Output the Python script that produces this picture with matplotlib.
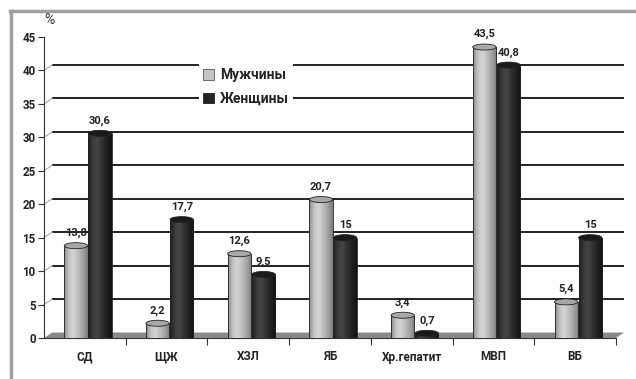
import matplotlib
matplotlib.use('Agg')
import matplotlib.pyplot as plt
import numpy as np
from matplotlib.colors import LinearSegmentedColormap
from matplotlib.patches import Ellipse, Polygon, Patch
from matplotlib.lines import Line2D

plt.rcParams['font.family'] = ['Roboto', 'DejaVu Sans']

categories = ['СД', 'ЩЖ', 'ХЗЛ', 'ЯБ', 'Хр.гепатит', 'МВП', 'ВБ']
men = [13.8, 2.2, 12.6, 20.7, 3.4, 43.5, 5.4]
women = [30.6, 17.7, 9.5, 15, 0.7, 40.8, 15]
yticks = [0, 5, 10, 15, 20, 25, 30, 35, 40, 45]

W, H = 636, 379
fig = plt.figure(figsize=(W / 100, H / 100), dpi=100)
# axes placed in pixel terms: y axis at x=44, zero at y=338, 45 at y=37
ax = fig.add_axes([44 / W, (H - 338) / H, 572 / W, 301 / H])
ax.set_xlim(-0.5, 6.5)
ax.set_ylim(0, 45)

dx = 0.1     # depth shift of the back wall (x, data units)
dy = 0.82    # depth shift of the back wall (y, data units)

# back-wall gridlines and the little diagonal connectors to the ticks
for v in yticks[1:-1]:
    ax.plot([-0.5 + dx, 6.5 + dx], [v + dy, v + dy], color='#111111', lw=1.3,
            zorder=1, clip_on=False, solid_capstyle='butt')
    ax.plot([-0.5, -0.5 + dx], [v, v + dy], color='#aaaaaa', lw=0.8,
            zorder=1, clip_on=False)

# floor
floor = Polygon([(-0.5, 0), (6.5, 0), (6.5 + dx, dy), (-0.5 + dx, dy)],
                closed=True, facecolor='#8a8a8a', edgecolor='none', zorder=1.5,
                clip_on=False)
ax.add_patch(floor)

men_cmap = LinearSegmentedColormap.from_list(
    'men', ['#8c8c8c', '#c4c4c4', '#d4d4d4', '#bdbdbd', '#a2a2a2', '#7c7c7c'])
women_cmap = LinearSegmentedColormap.from_list(
    'women', ['#1e1e1e', '#3c3c3c', '#444444', '#303030', '#202020', '#111111'])
grad = np.linspace(0, 1, 64).reshape(1, -1)

x = np.arange(len(categories))
bw = 0.285
m_off, w_off = -0.11, 0.185


def cylinders(xs, vals, cmap, top_face, zo):
    bars = ax.bar(xs, vals, width=bw, facecolor='none', edgecolor='#222222',
                  linewidth=0.6, zorder=zo + 0.2)
    for b, v in zip(bars, vals):
        x0 = b.get_x()
        im = ax.imshow(grad, cmap=cmap, aspect='auto', zorder=zo,
                       extent=[x0, x0 + bw, 0, v], interpolation='bilinear')
        im.set_clip_path(b)
        ax.add_patch(Ellipse((x0 + bw / 2, v), bw, 0.9, facecolor=top_face,
                             edgecolor='#222222', linewidth=0.6, zorder=zo + 0.3))
    return bars


cylinders(x + m_off, men, men_cmap, '#a8a8a8', 3)
cylinders(x + w_off, women, women_cmap, '#1a1a1a', 4)

for xi, v in zip(x + m_off, men):
    ax.text(xi, v + 1.9, f'{v:g}'.replace('.', ','), ha='center', va='center',
            fontsize=8, fontweight='bold', color='#222222', zorder=6)
for xi, v in zip(x + w_off, women):
    ax.text(xi, v + 1.9, f'{v:g}'.replace('.', ','), ha='center', va='center',
            fontsize=8, fontweight='bold', color='#222222', zorder=6)

ax.set_xlim(-0.5, 6.5)
ax.set_ylim(0, 45)

for s in ['top', 'right']:
    ax.spines[s].set_visible(False)
ax.spines['left'].set_color('#333333')
ax.spines['bottom'].set_color('#333333')
ax.spines['left'].set_linewidth(0.8)
ax.spines['bottom'].set_linewidth(0.8)

ax.set_yticks(yticks)
ax.set_yticklabels([str(t) for t in yticks], fontsize=8.3, fontweight='bold',
                   color='#222222')
ax.tick_params(axis='y', length=4, width=0.8, color='#333333', pad=2)

ax.set_xticks(x)
ax.set_xticklabels(categories, fontsize=8.5, fontweight='bold', color='#222222')
ax.tick_params(axis='x', length=0, pad=9)
ax.set_xticks(np.arange(0.5, 7, 1), minor=True)
ax.tick_params(axis='x', which='minor', length=5, width=0.8, color='#333333')

ax.text(-0.5, 47.6, '%', fontsize=10, color='#333333', ha='left', va='center')

handles = [Patch(facecolor='#c4c4c4', edgecolor='#555555', linewidth=0.6),
           Patch(facecolor='#222222', edgecolor='#222222', linewidth=0.6)]
leg = fig.legend(handles, ['Мужчины', 'Женщины'], loc='upper left',
                 bbox_to_anchor=(192 / W, 1 - 57 / H), frameon=True,
                 facecolor='white', edgecolor='none', framealpha=1,
                 prop={'size': 10, 'weight': 'bold'}, handlelength=0.8,
                 handleheight=0.8, handletextpad=0.4, labelspacing=0.7,
                 borderpad=0.3, fancybox=False)
leg.set_zorder(10)
for t in leg.get_texts():
    t.set_color('#222222')

# outer frame (top and left edges)
fig.add_artist(Line2D([10 / W, 1], [1 - 11 / H, 1 - 11 / H],
                      transform=fig.transFigure, color='#a0a0a0', lw=2.5))
fig.add_artist(Line2D([11 / W, 11 / W], [0, 1 - 11 / H],
                      transform=fig.transFigure, color='#a0a0a0', lw=2.5))

fig.savefig('out.png', dpi=100)
